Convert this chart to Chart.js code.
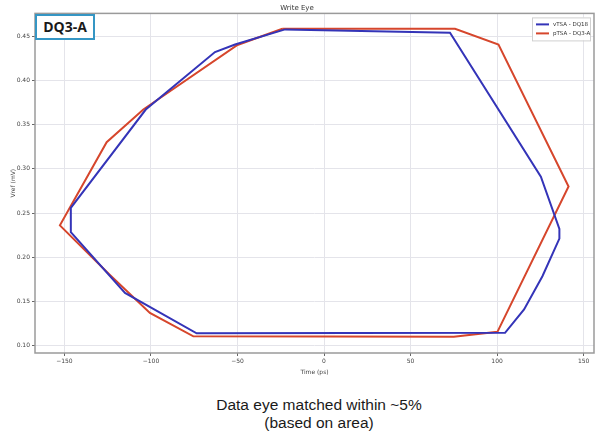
<!DOCTYPE html>
<html>
<head>
<meta charset="utf-8">
<script src="https://cdn.jsdelivr.net/npm/chart.js@4.4.0/dist/chart.umd.min.js"></script>
<style>
  html, body { margin: 0; padding: 0; background: #fff; }
  #wrap { position: relative; width: 598px; height: 431px; overflow: hidden; }
  #chartBox { position: absolute; left: 0; top: 0; width: 598px; height: 376px; }
  #tag {
    position: absolute; left: 35px; top: 14px; width: 56px; height: 22px;
    border: 2px solid #3596c4; background: #fff;
    font: bold 14px "Open Sans", "Liberation Sans", sans-serif; color: #1a1a1a;
    line-height: 22px; text-align: center;
  }
  #caption {
    position: absolute; left: 0; top: 396px; width: 638px; text-align: center;
    font: 15.5px "Liberation Sans", Arial, sans-serif; color: #1a1a1a; line-height: 18px;
  }
</style>
</head>
<body>
<div id="wrap">
  <div id="chartBox"><canvas id="eye"></canvas></div>
  <div id="tag">DQ3-A</div>
  <div id="caption">Data eye matched within ~5%<br>(based on area)</div>
</div>
<script>
// vTSA - DQ18 outline (ps, V)
const vtsaTime = [-22.5, 72.8, 125.3, 136, 136, 126.2, 115.6, 104.6, -73.6, -115, -146.3, -146.3, -103, -63, -51.4, -22.5];
const vtsaVref = [0.4576, 0.4538, 0.291, 0.232, 0.221, 0.1785, 0.141, 0.1145, 0.114, 0.1597, 0.2283, 0.2559, 0.367, 0.432, 0.4406, 0.4576];

// pTSA - DQ3-A outline
const ptsaTime = [-24, 75.7, 100.8, 141.3, 100.2, 75, -75.5, -100.6, -123.7, -152.6, -125.6, -104.4, -50, -24];
const ptsaVref = [0.4584, 0.4584, 0.4406, 0.280, 0.1156, 0.110, 0.1106, 0.137, 0.180, 0.236, 0.330, 0.367, 0.440, 0.4584];

const seriesNames = ["vTSA - DQ18", "pTSA - DQ3-A"];
const seriesColors = ["#3434b8", "#d6462c"];

function toPoints(xs, ys) {
  return xs.map((x, i) => ({ x: x, y: ys[i] }));
}

// box round the plot + matplotlib style legend
const framePlugin = {
  id: "frame",
  afterDraw(chart) {
    const ctx = chart.ctx;
    const a = chart.chartArea;
    ctx.save();
    ctx.strokeStyle = "#9a9a9a";
    ctx.lineWidth = 1.5;
    ctx.strokeRect(a.left, a.top, a.right - a.left, a.bottom - a.top);

    // legend
    const lx = a.right - 62, ly = a.top + 4;
    ctx.fillStyle = "rgba(255,255,255,0.9)";
    ctx.strokeStyle = "#d0d0d0";
    ctx.lineWidth = 1;
    ctx.fillRect(lx, ly, 58, 23);
    ctx.strokeRect(lx + 0.5, ly + 0.5, 58, 23);
    ctx.font = "5.5px 'DejaVu Sans', sans-serif";
    ctx.textBaseline = "middle";
    seriesNames.forEach((name, i) => {
      const yy = ly + 7 + i * 9;
      ctx.strokeStyle = seriesColors[i];
      ctx.lineWidth = 2;
      ctx.beginPath();
      ctx.moveTo(lx + 4, yy);
      ctx.lineTo(lx + 17, yy);
      ctx.stroke();
      ctx.fillStyle = "#333";
      ctx.fillText(name, lx + 21, yy);
    });
    ctx.restore();
  }
};

const tickFont = { family: "'DejaVu Sans', sans-serif", size: 6 };

new Chart(document.getElementById("eye"), {
  type: "scatter",
  data: {
    datasets: [
      {
        label: seriesNames[0],
        data: toPoints(vtsaTime, vtsaVref),
        showLine: true,
        borderColor: seriesColors[0],
        borderWidth: 2,
        pointRadius: 0,
        tension: 0
      },
      {
        label: seriesNames[1],
        data: toPoints(ptsaTime, ptsaVref),
        showLine: true,
        borderColor: seriesColors[1],
        borderWidth: 2,
        pointRadius: 0,
        tension: 0
      }
    ]
  },
  options: {
    responsive: true,
    maintainAspectRatio: false,
    animation: false,
    layout: { padding: { top: 0, right: 4, left: 0, bottom: 0 } },
    plugins: {
      legend: { display: false },
      tooltip: { enabled: false },
      title: {
        display: true,
        text: "Write Eye",
        color: "#333",
        font: { family: "'DejaVu Sans', sans-serif", size: 7, weight: "normal" },
        padding: { top: 4, bottom: 1 }
      }
    },
    scales: {
      x: {
        type: "linear",
        min: -167,
        max: 156,
        afterFit(scale) { scale.height = 23; },
        ticks: {
          stepSize: 50,
          includeBounds: false,
          color: "#444",
          font: tickFont,
          padding: 2,
          callback: (v) => String(v).replace("-", "\u2212")
        },
        grid: { color: "#e4e4ea", tickLength: 3, tickColor: "#666" },
        border: { display: false },
        title: {
          display: true,
          text: "Time (ps)",
          color: "#444",
          font: tickFont,
          padding: { top: 2, bottom: 0 }
        }
      },
      y: {
        type: "linear",
        min: 0.0917,
        max: 0.4757,
        afterFit(scale) { scale.width = 35; },
        ticks: {
          stepSize: 0.05,
          includeBounds: false,
          color: "#444",
          font: tickFont,
          padding: 2,
          callback: (v) => v.toFixed(2)
        },
        grid: { color: "#e4e4ea", tickLength: 3, tickColor: "#666" },
        border: { display: false },
        title: {
          display: true,
          text: "Vref (mV)",
          color: "#444",
          font: tickFont,
          padding: { top: 10, bottom: 0 }
        }
      }
    }
  },
  plugins: [framePlugin]
});
</script>
</body>
</html>
